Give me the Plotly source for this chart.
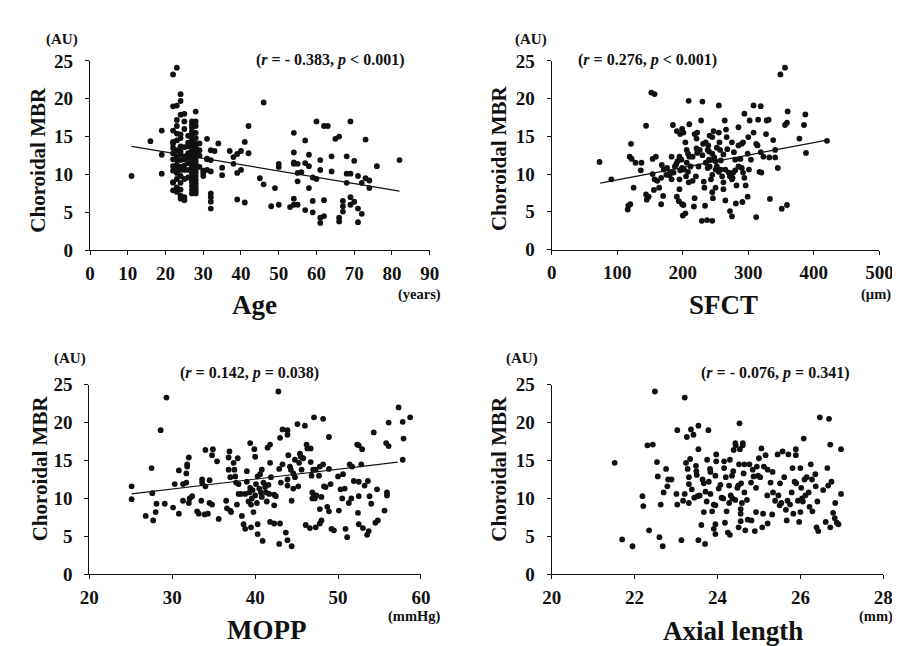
import plotly.graph_objects as go

# ---------------- DATA ----------------
age_x = [11, 16, 19, 19, 19, 22, 23, 22, 23, 24, 24, 23, 24, 25, 22, 23, 23, 22, 22, 24, 24, 25,
         22, 23, 23, 24, 22, 23, 24, 22, 23, 24, 22, 23, 24, 24, 25,
         25, 25, 25, 25, 25, 26, 26, 26, 26,
         27, 27, 27, 27, 27, 27, 27, 27, 27, 27, 27, 27,
         28, 28, 28, 28, 28, 28, 28, 28, 28, 28, 28, 28,
         29, 29, 30, 30, 31, 31, 31, 32, 32, 32, 32, 32, 32, 32, 33, 34, 35, 35, 37, 38, 38,
         39, 39, 39, 40, 40, 41, 41, 42, 42, 45, 46, 46, 48, 49, 50, 50, 50, 53,
         54, 54, 54, 54, 54, 54, 55, 55, 55, 55, 56, 57, 57, 57, 58, 58, 58, 59, 59, 59,
         60, 60, 61, 61, 61, 61, 62, 62, 62, 63, 64, 64, 65, 66, 66, 66, 67, 67, 67,
         68, 68, 68, 69, 69, 69, 69, 70, 70, 71, 71, 71, 72, 72, 73, 73, 74, 74, 76, 82,
         22, 22, 22, 22, 23, 23, 23, 23, 23, 24, 24, 24, 24, 24, 24, 25, 25, 25, 26, 26, 26, 26,
         27, 27, 27, 27, 27, 27, 27, 27, 27, 27, 27,
         28, 28, 28, 28, 28, 28, 28, 28, 28, 28, 29, 29, 30, 31]
age_y = [9.8, 14.4, 15.8, 12.6, 10.1, 23.2, 24.1, 19.0, 19.1, 20.6, 19.7, 17.2, 17.9, 18.0, 15.8, 16.4, 15.4, 14.3, 14.1, 14.8, 13.7, 17.0,
         12.8, 12.4, 11.9, 11.9, 11.1, 10.9, 10.6, 8.9, 9.4, 8.9, 7.9, 7.7, 7.2, 6.8, 6.6,
         16.0, 13.6, 12.4, 10.6, 9.4, 15.1, 13.7, 10.6, 12.8,
         17.0, 16.2, 15.3, 14.5, 13.6, 12.8, 11.9, 11.1, 10.2, 9.4, 8.5, 7.5,
         18.3, 17.0, 15.5, 14.1, 13.2, 12.4, 11.5, 10.6, 9.8, 8.9, 8.1, 7.5,
         14.1, 13.2, 10.2, 9.8, 14.7, 12.1, 10.6, 13.2, 11.9, 10.4, 7.5, 7.0, 6.4, 5.5, 13.1, 14.1, 10.9, 9.9, 13.1, 12.3, 11.4,
         12.7, 10.2, 6.7, 13.1, 10.6, 14.3, 6.3, 16.4, 12.8, 9.5, 19.5, 8.7, 5.8, 8.2, 11.4, 11.0, 6.0, 5.7,
         15.5, 12.9, 11.6, 11.4, 6.8, 6.0, 11.4, 10.2, 9.1, 6.0, 10.3, 14.5, 11.5, 5.3, 12.6, 11.1, 8.2, 9.6, 6.5, 5.0,
         17.0, 9.4, 11.9, 10.6, 4.3, 3.6, 16.4, 6.6, 4.5, 16.4, 12.4, 10.4, 14.7, 15.0, 4.3, 3.8, 6.5, 5.8, 5.1,
         12.4, 10.1, 8.9, 17.0, 10.1, 7.0, 6.0, 11.8, 6.4, 9.8, 5.5, 3.7, 8.9, 4.8, 14.6, 9.5, 9.2, 8.2, 11.1, 11.9,
         13.5, 12.0, 9.0, 10.5, 13.2, 11.3, 10.2, 8.3, 14.5, 12.6, 11.0, 9.8, 8.0, 15.3, 13.0, 12.0, 11.2, 7.0, 14.2, 11.5, 9.6, 12.2,
         16.6, 15.7, 14.9, 14.1, 13.2, 12.4, 11.5, 10.6, 9.8, 9.0, 8.0,
         16.4, 14.8, 13.6, 12.8, 11.9, 11.1, 10.2, 9.3, 8.5, 7.8, 12.5, 11.0, 10.5, 12.0]
age_fit_x = [11, 82]
age_fit_y = [13.7, 7.8]
age_ticks = [0, 10, 20, 30, 40, 50, 60, 70, 80, 90]

sfct_x = [73, 91, 121, 119, 122, 128, 125, 117, 116, 120, 137, 136, 144, 144, 145, 148, 152, 157,
          154, 159, 154, 157, 161, 156, 164, 167, 170, 168, 171, 167, 175, 180, 183, 185, 183, 188, 192, 191,
          196, 199, 201, 195, 198, 199, 202, 195, 195, 191, 194, 199, 201, 200, 204, 209, 210,
          204, 206, 208, 210, 205, 209, 206, 215, 218, 222, 218, 217, 221, 221, 224, 220, 228, 230,
          229, 237, 245, 233, 234, 231, 235, 239, 238, 240, 241, 243, 241, 245, 247, 255, 255,
          245, 247, 250, 252, 250, 245, 246, 250, 256, 257, 258, 264, 266, 267, 265, 262,
          262, 265, 272, 275, 270, 272, 275, 277, 275, 278, 280, 281, 282, 285, 285, 290, 292,
          290, 292, 294, 291, 296, 294, 300, 302, 299, 301, 304, 299, 308, 308, 312, 314, 312,
          319, 315, 319, 317, 320, 323, 327, 328, 331, 332, 333, 338, 341, 341, 345, 349, 356,
          351, 359, 356, 359, 360, 378, 385, 387, 388, 420,
          230, 235, 240, 248, 252, 258, 262, 268, 272, 276, 280, 285, 288, 260, 255, 245, 238, 232,
          226, 222, 215, 212, 208, 196, 190, 186, 180, 176]
sfct_y = [11.6, 9.3, 14.0, 12.3, 12.0, 11.5, 8.2, 5.8, 5.3, 6.0, 11.5, 10.5, 16.4, 7.3, 6.6, 7.0, 20.8, 20.6,
          12.0, 12.3, 10.0, 9.3, 9.1, 7.9, 8.2, 6.0, 7.1, 11.2, 10.6, 9.5, 9.9, 10.2, 12.3, 16.5, 9.3, 11.0, 11.7, 15.7,
          15.3, 16.0, 15.5, 12.3, 11.9, 10.8, 10.6, 9.3, 8.0, 7.0, 6.4, 6.0, 5.9, 4.5, 4.8, 19.7, 16.6,
          14.2, 13.2, 12.7, 12.3, 9.7, 8.9, 11.5, 9.1, 15.3, 15.5, 6.8, 5.7, 14.7, 13.4, 11.0, 9.7, 17.1, 19.6,
          3.8, 3.9, 3.8, 8.2, 5.8, 14.0, 14.2, 13.8, 13.2, 11.9, 11.0, 9.3, 15.1, 14.9, 15.7, 19.1, 15.5,
          12.7, 11.9, 11.7, 11.0, 10.6, 7.6, 6.8, 8.2, 14.2, 13.2, 10.6, 17.1, 15.9, 14.9, 10.6, 8.9,
          8.0, 6.5, 5.1, 4.4, 10.2, 9.7, 9.3, 10.2, 14.2, 12.9, 11.9, 6.1, 8.5, 16.2, 13.8, 14.0, 14.2,
          10.8, 10.2, 9.5, 6.3, 8.5, 18.0, 14.9, 17.1, 12.7, 10.6, 11.9, 7.0, 19.1, 15.5, 14.0, 13.8, 4.3,
          19.0, 17.2, 12.9, 10.3, 10.2, 12.3, 15.3, 17.1, 17.2, 12.2, 6.7, 14.5, 13.2, 12.2, 10.8, 23.2, 24.1,
          5.4, 5.9, 16.5, 16.8, 18.3, 14.7, 16.5, 17.9, 12.8, 14.4,
          12.5, 11.5, 13.0, 12.2, 13.5, 11.8, 12.6, 13.3, 9.8, 9.5, 10.5, 11.0, 12.0, 9.7, 10.3, 9.9, 10.8, 9.0,
          13.2, 12.8, 12.3, 11.0, 10.3, 10.5, 11.3, 10.2, 9.8, 10.8]
sfct_fit_x = [74, 420]
sfct_fit_y = [8.8, 14.5]
sfct_ticks = [0, 100, 200, 300, 400, 500]

mopp_x = [25.1, 25.1, 26.8, 27.5, 27.6, 27.7, 28.0, 28.1, 28.6, 29.3, 29.1, 30.1, 30.3, 30.8, 30.8,
          31.3, 31.3, 31.7, 31.8, 31.8, 31.7, 32.0, 32.0, 32.1, 32.4, 33.0, 33.2, 33.5, 33.6, 33.6,
          33.9, 34.0, 34.0, 34.3, 34.5, 34.5, 34.8, 34.9, 34.8, 35.4, 35.6, 36.5, 36.6, 36.8, 36.9, 36.8,
          37.0, 37.0, 37.1, 37.4, 37.5, 37.6, 37.7, 37.8, 37.9, 38.0, 38.0, 38.3, 38.4, 38.6, 38.8, 38.8,
          39.0, 39.0, 39.2, 39.4, 39.4, 39.3, 39.5, 39.5, 39.6, 39.7, 39.8, 39.9, 40.0, 40.0, 40.1, 40.2,
          40.3, 40.3, 40.3, 40.5, 40.6, 40.8, 40.7, 40.8, 40.9, 41.0, 41.2, 41.3, 41.4, 41.5, 41.6, 41.7,
          41.8, 41.8, 41.8, 41.9, 42.3, 42.3, 42.3, 42.5, 42.8, 42.9, 42.9, 43.0, 43.0, 43.1, 43.3, 43.3,
          43.7, 43.9, 43.9, 43.9, 43.9, 43.9, 44.0, 44.2, 44.3, 44.4, 44.4, 44.6, 44.6, 44.8, 44.8,
          45.1, 45.2, 45.3, 45.4, 45.5, 45.6, 45.8, 46.0, 46.1, 46.2, 46.3, 46.6, 46.7, 46.7, 46.8, 46.9, 46.9,
          47.0, 47.1, 47.1, 47.2, 47.3, 47.3, 47.4, 47.7, 47.8, 47.8, 47.8, 48.0, 48.0, 48.2, 48.2, 48.3, 48.5,
          48.7, 48.9, 48.9, 48.9, 49.1, 49.2, 49.5, 50.0, 50.1, 50.3, 50.5, 50.6, 50.8, 50.9, 51.1, 51.3,
          51.4, 51.6, 51.7, 51.9, 52.3, 52.5, 52.4, 52.5, 52.5, 52.5, 52.8, 52.9, 53.0, 53.2, 53.5, 53.6, 53.7,
          53.8, 54.0, 54.3, 54.5, 54.8, 54.7, 55.6, 55.8, 55.9, 55.9, 56.1, 56.1, 57.3, 57.8, 57.9, 57.8, 58.7]
mopp_y = [11.6, 9.9, 7.7, 14.0, 10.7, 7.1, 8.2, 9.3, 19.0, 23.3, 9.3, 8.8, 11.9, 13.7, 8.0,
          11.9, 9.7, 13.3, 14.5, 14.2, 12.1, 15.4, 9.4, 10.0, 10.3, 8.3, 8.0, 9.7, 12.5, 12.1,
          7.9, 16.4, 11.6, 8.0, 9.4, 12.4, 9.2, 16.5, 15.7, 14.9, 7.3, 9.7, 8.7, 15.4, 16.2, 13.8,
          12.8, 8.4, 8.2, 14.7, 13.8, 12.9, 12.1, 9.2, 15.3, 10.6, 11.9, 10.6, 7.7, 6.6, 10.6, 6.0,
          12.2, 13.6, 9.6, 17.3, 11.4, 10.8, 9.2, 6.2, 10.0, 11.1, 8.2, 16.5, 15.5, 10.4, 11.9, 9.4,
          6.6, 5.3, 12.9, 11.3, 13.2, 13.8, 10.8, 10.2, 4.4, 12.1, 11.5, 10.8, 9.6, 16.7, 11.8, 10.6,
          14.7, 17.1, 6.9, 12.8, 10.5, 9.1, 6.7, 10.3, 24.1, 13.9, 4.0, 6.7, 18.0, 12.1, 14.5, 19.1,
          5.5, 19.0, 18.4, 12.5, 4.5, 11.7, 15.7, 14.2, 13.8, 3.7, 9.7, 13.3, 11.3, 15.1, 12.8,
          19.8, 11.6, 14.7, 15.9, 15.5, 13.8, 15.3, 19.6, 6.5, 17.1, 16.6, 6.1, 14.8, 16.6, 13.0, 10.0, 10.8,
          13.8, 20.7, 10.4, 10.0, 13.8, 6.2, 10.4, 13.0, 14.2, 8.6, 6.7, 7.1, 10.2, 20.5, 14.5, 11.6, 11.5,
          8.9, 8.3, 18.1, 13.9, 11.9, 6.0, 5.8, 12.9, 8.4, 11.2, 10.0, 13.2, 11.3, 6.0, 4.9, 9.4,
          14.5, 10.0, 14.2, 12.3, 17.1, 17.0, 8.1, 10.3, 12.2, 6.6, 14.5, 16.5, 6.1, 11.7, 5.2, 12.3, 5.7,
          10.3, 9.3, 18.7, 6.8, 7.1, 11.2, 8.4, 17.3, 10.8, 10.4, 16.9, 20.0, 22.0, 20.1, 17.9, 15.1, 20.7]
mopp_fit_x = [25.1, 57.2]
mopp_fit_y = [10.6, 14.8]
mopp_ticks = [20, 30, 40, 50, 60]

al_x = [21.52, 21.70, 21.95, 22.19, 22.21, 22.31, 22.44, 22.49, 22.35, 22.54, 22.56, 22.60, 22.63, 22.68,
        22.70, 22.76, 22.79, 22.81, 22.89, 23.03, 23.01, 23.03, 23.13, 23.17, 23.21, 23.21,
        23.24, 23.26, 23.28, 23.31, 23.31, 23.31, 23.34, 23.36, 23.38, 23.42, 23.44,
        23.48, 23.49, 23.50, 23.52, 23.54, 23.54, 23.54, 23.57, 23.61, 23.64, 23.67, 23.70,
        23.67, 23.71, 23.74, 23.75, 23.78, 23.79, 23.82, 23.83, 23.83, 23.87, 23.91, 23.91, 23.95, 23.95,
        23.95, 23.95, 23.97, 23.97, 24.03, 24.07, 24.10, 24.14, 24.16, 24.16, 24.18, 24.20,
        24.22, 24.25, 24.28, 24.28, 24.30, 24.30, 24.32, 24.35, 24.36, 24.38, 24.39, 24.43, 24.44, 24.43,
        24.48, 24.50, 24.51, 24.52, 24.53, 24.54, 24.56, 24.56, 24.56, 24.57, 24.59, 24.61, 24.61,
        24.63, 24.65, 24.67, 24.65, 24.71, 24.73, 24.77, 24.81, 24.82, 24.85, 24.87,
        24.90, 24.93, 24.93, 24.95, 24.98, 25.00, 25.03, 25.06, 25.08, 25.10, 25.12, 25.16,
        25.20, 25.21, 25.21, 25.28, 25.32, 25.33, 25.34, 25.39, 25.45, 25.47, 25.50,
        25.51, 25.54, 25.57, 25.61, 25.65, 25.67, 25.69, 25.71, 25.75, 25.79, 25.81, 25.83,
        25.86, 25.89, 25.89, 25.90, 25.94, 25.97, 26.00, 26.00, 26.02, 26.04, 26.06, 26.08,
        26.10, 26.12, 26.15, 26.20, 26.22, 26.25, 26.28, 26.29, 26.36, 26.37, 26.41, 26.39, 26.43,
        26.47, 26.55, 26.61, 26.65, 26.67, 26.69, 26.72, 26.72, 26.75, 26.79, 26.83, 26.84,
        26.88, 26.92, 26.98, 26.98]
al_y = [14.7, 4.6, 3.7, 10.3, 9.0, 17.0, 17.1, 24.1, 5.8, 14.8, 12.9, 4.9, 9.2, 3.7,
        10.8, 13.9, 11.6, 12.5, 12.5, 19.0, 10.6, 9.2, 4.5, 9.7, 23.3, 10.6,
        14.7, 18.1, 13.9, 12.8, 11.9, 9.4, 15.2, 19.1, 11.2, 18.4, 10.1,
        14.3, 13.6, 13.1, 10.3, 19.6, 16.5, 4.5, 10.4, 6.5, 12.5, 8.2, 4.0,
        12.0, 10.9, 9.6, 15.1, 19.0, 12.2, 13.9, 13.5, 10.6, 8.3, 9.2, 6.0, 5.3, 6.6,
        9.1, 13.0, 15.8, 14.9, 11.3, 11.8, 10.1, 10.0, 14.9, 14.0, 6.8, 12.8,
        8.3, 5.5, 11.7, 9.4, 15.1, 5.2, 10.4, 13.0, 10.0, 13.6, 16.4, 17.3, 17.0, 9.8,
        11.4, 11.7, 6.2, 14.5, 19.9, 16.5, 8.6, 8.0, 7.0, 12.0, 9.4, 17.3, 17.0,
        13.3, 10.8, 5.8, 14.5, 9.8, 7.2, 14.5, 12.1, 7.1, 13.8, 12.9,
        5.7, 8.2, 11.4, 14.2, 13.0, 15.3, 12.8, 16.6, 6.2, 8.0, 14.2, 15.7,
        10.4, 13.8, 6.7, 12.1, 7.9, 13.5, 10.8, 9.7, 15.8, 10.4, 9.1,
        12.0, 9.4, 16.2, 12.8, 8.5, 7.1, 9.7, 15.8, 9.2, 10.8, 14.0, 8.0,
        12.2, 16.5, 15.7, 12.0, 9.7, 6.9, 14.0, 8.2, 11.4, 10.0, 9.6, 17.9,
        12.5, 10.4, 12.8, 10.8, 8.9, 14.5, 12.5, 8.3, 13.2, 11.6, 9.6, 6.2, 5.7,
        20.7, 11.1, 6.9, 14.0, 11.7, 20.5, 17.1, 6.2, 12.2, 8.1, 7.4, 9.4,
        6.8, 6.6, 16.5, 10.6]
al_ticks = [20, 22, 24, 26, 28]

y_ticks = [0, 5, 10, 15, 20, 25]

# ---------------- LAYOUT HELPERS ----------------
W, H = 900, 646
FONT = "Liberation Serif"
INK = "#111111"


def px(v):
    return v / W


def py(v):
    return 1 - v / H


def bold(vals):
    return [f"<b>{v}</b>" for v in vals]


panels = [
    dict(x=age_x, y=age_y, fx=age_fit_x, fy=age_fit_y, xr=[0, 90], xt=age_ticks,
         xd=[74, 423], yd=[240, 44.3], au=(45, 22), rt="(<i>r</i> = - 0.383, <i>p</i> &lt; 0.001)",
         rpos=(321, 43), title="Age", tpos=(243, 297), unit="(years)", upos=(412, 286), ytpos=(21, 146)),
    dict(x=sfct_x, y=sfct_y, fx=sfct_fit_x, fy=sfct_fit_y, xr=[0, 500], xt=sfct_ticks,
         xd=[548.3, 885], yd=[239.3, 44.3], au=(527, 22), rt="(<i>r</i> = 0.276, <i>p</i> &lt; 0.001)",
         rpos=(647, 43), title="SFCT", tpos=(725, 297), unit="(µm)", upos=(882, 286), ytpos=(494, 145)),
    dict(x=mopp_x, y=mopp_y, fx=mopp_fit_x, fy=mopp_fit_y, xr=[20, 60], xt=mopp_ticks,
         xd=[73.3, 414], yd=[575, 379], au=(53, 352), rt="(<i>r</i> = 0.142, <i>p</i> = 0.038)",
         rpos=(238, 367), title="MOPP", tpos=(255, 633), unit="(mmHg)", upos=(407, 619), ytpos=(22, 465)),
    dict(x=al_x, y=al_y, fx=None, fy=None, xr=[20, 28], xt=al_ticks,
         xd=[548.3, 889], yd=[575, 379], au=(518, 352), rt="(<i>r</i> = - 0.076, <i>p</i> = 0.341)",
         rpos=(778, 367), title="Axial length", tpos=(735, 634), unit="(mm)", upos=(881, 619), ytpos=(494, 466)),
]

fig = go.Figure()
annotations = []
layout_axes = {}


def ann(text, pos, size, **kw):
    d = dict(text=f"<b>{text}</b>", x=px(pos[0]), y=py(pos[1]), xref="paper", yref="paper",
             showarrow=False, xanchor="center", yanchor="middle",
             font=dict(family=FONT, size=size, color=INK))
    d.update(kw)
    annotations.append(d)


for i, p in enumerate(panels, start=1):
    xa = "x" if i == 1 else f"x{i}"
    ya = "y" if i == 1 else f"y{i}"
    fig.add_trace(go.Scatter(x=p["x"], y=p["y"], mode="markers", xaxis=xa, yaxis=ya,
                             marker=dict(size=5.8, color=INK), showlegend=False,
                             cliponaxis=False))
    if p["fx"] is not None:
        fig.add_trace(go.Scatter(x=p["fx"], y=p["fy"], mode="lines", xaxis=xa, yaxis=ya,
                                 line=dict(color=INK, width=1.2), showlegend=False))
    axcommon = dict(showline=True, linecolor=INK, linewidth=1.3, ticks="outside",
                    ticklen=4, tickwidth=1.3, tickcolor=INK, showgrid=False, zeroline=False,
                    tickfont=dict(family=FONT, size=19, color=INK),
                    fixedrange=True)
    xkey = "xaxis" if i == 1 else f"xaxis{i}"
    ykey = "yaxis" if i == 1 else f"yaxis{i}"
    layout_axes[xkey] = dict(axcommon, domain=[px(p["xd"][0]), px(p["xd"][1])], range=p["xr"],
                             tickvals=p["xt"], ticktext=bold(p["xt"]), anchor=ya,
                             ticklabelstandoff=2)
    layout_axes[ykey] = dict(axcommon, domain=[py(p["yd"][0]), py(p["yd"][1])], range=[0, 25],
                             tickvals=y_ticks, ticktext=bold(y_ticks), anchor=xa,
                             ticklabelstandoff=8)

    ann("(AU)", p["au"], 15)
    ann(p["rt"], p["rpos"], 16)
    ann(p["title"], p["tpos"], 27)
    ann(p["unit"], p["upos"], 14.5)
    ann("Choroidal MBR", p["ytpos"], 21, textangle=-90)

fig.update_layout(width=W, height=H, margin=dict(l=0, r=0, t=0, b=0, pad=0),
                  plot_bgcolor="white", paper_bgcolor="white",
                  annotations=annotations, **layout_axes)

fig.write_html("out.html")
